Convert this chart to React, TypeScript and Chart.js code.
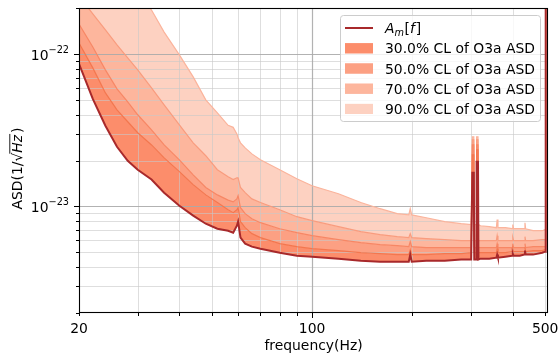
import React, { useEffect, useRef } from 'react';
import { Chart, registerables } from 'chart.js';

Chart.register(...registerables);

// ---------------- data ----------------
const FREQ = [20, 22, 24, 26, 28, 30, 33, 36, 40, 44, 48, 52, 56, 58, 59.5, 60, 61, 63, 66, 70, 80, 90, 100, 120, 140, 160, 180, 195, 197, 199, 220, 250, 280, 300, 301.5, 302.5, 305.5, 306.5, 310.5, 311.5, 314.5, 315.5, 320, 340, 357, 359, 361, 380, 398, 400, 402, 420, 433, 435, 437, 460, 490, 500, 502];

const AM = [
  8.6e-23, 5.07e-23, 3.38e-23, 2.46e-23, 1.99e-23, 1.74e-23,
  1.5e-23, 1.23e-23, 1.01e-23, 8.7e-24, 7.7e-24, 7.14e-24,
  6.93e-24, 6.73e-24, 7.47e-24, 7.94e-24, 6.24e-24, 5.7e-24,
  5.45e-24, 5.28e-24, 4.97e-24, 4.75e-24, 4.68e-24, 4.54e-24,
  4.41e-24, 4.34e-24, 4.34e-24, 4.34e-24, 4.83e-24, 4.34e-24,
  4.41e-24, 4.41e-24, 4.48e-24, 4.48e-24, 4.48e-24, 1.66e-23,
  1.66e-23, 4.48e-24, 4.48e-24, 1.96e-23, 1.96e-23, 4.48e-24,
  4.54e-24, 4.54e-24, 4.61e-24, 4.83e-24, 4.61e-24, 4.68e-24,
  4.75e-24, 4.9e-24, 4.75e-24, 4.75e-24, 4.83e-24, 5.13e-24,
  4.83e-24, 4.83e-24, 4.97e-24, 5.05e-24, 1.0e-21,
];

const CL30 = [
  1.18e-22, 8.1e-23, 5.55e-23, 4.3e-23, 3.59e-23, 3.04e-23,
  2.53e-23, 2.08e-23, 1.69e-23, 1.39e-23, 1.19e-23, 1.06e-23,
  9.5e-24, 9.1e-24, 9.5e-24, 9.8e-24, 7.94e-24, 7.25e-24,
  6.63e-24, 6.24e-24, 5.7e-24, 5.45e-24, 5.28e-24, 5.13e-24,
  4.97e-24, 4.9e-24, 4.83e-24, 4.83e-24, 5.2e-24, 4.83e-24,
  4.83e-24, 4.9e-24, 4.9e-24, 4.97e-24, 4.97e-24, 2.18e-23,
  2.18e-23, 4.97e-24, 4.97e-24, 2.35e-23, 2.35e-23, 4.97e-24,
  4.97e-24, 4.97e-24, 4.97e-24, 5.28e-24, 4.97e-24, 4.97e-24,
  5.05e-24, 5.28e-24, 5.05e-24, 5.05e-24, 5.05e-24, 5.37e-24,
  5.05e-24, 5.13e-24, 5.13e-24, 5.2e-24, 1.0e-21,
];

const CL50 = [
  1.57e-22, 1.11e-22, 7.86e-23, 5.9e-23, 4.85e-23, 3.99e-23,
  3.18e-23, 2.53e-23, 2.02e-23, 1.61e-23, 1.33e-23, 1.19e-23,
  1.1e-23, 1.07e-23, 1.12e-23, 1.175e-23, 9.8e-24, 8.96e-24,
  8.31e-24, 7.82e-24, 7.14e-24, 6.73e-24, 6.43e-24, 6.05e-24,
  5.78e-24, 5.61e-24, 5.53e-24, 5.45e-24, 5.87e-24, 5.45e-24,
  5.37e-24, 5.37e-24, 5.37e-24, 5.37e-24, 5.37e-24, 2.53e-23,
  2.53e-23, 5.37e-24, 5.37e-24, 2.53e-23, 2.53e-23, 5.37e-24,
  5.37e-24, 5.37e-24, 5.37e-24, 5.7e-24, 5.37e-24, 5.37e-24,
  5.37e-24, 5.7e-24, 5.37e-24, 5.37e-24, 5.37e-24, 5.7e-24,
  5.37e-24, 5.45e-24, 5.45e-24, 5.45e-24, 1.0e-21,
];

const CL70 = [
  2.4e-22, 1.83e-22, 1.44e-22, 1.145e-22, 9.42e-23, 7.86e-23,
  5.99e-23, 4.63e-23, 3.43e-23, 2.61e-23, 2.15e-23, 1.74e-23,
  1.565e-23, 1.5e-23, 1.54e-23, 1.54e-23, 1.33e-23, 1.23e-23,
  1.12e-23, 1.06e-23, 9.5e-24, 8.56e-24, 8.06e-24, 7.36e-24,
  6.83e-24, 6.53e-24, 6.33e-24, 6.24e-24, 6.63e-24, 6.24e-24,
  6.15e-24, 6.05e-24, 5.96e-24, 5.96e-24, 5.96e-24, 2.73e-23,
  2.73e-23, 5.96e-24, 5.96e-24, 2.73e-23, 2.73e-23, 5.96e-24,
  5.96e-24, 5.96e-24, 5.96e-24, 6.43e-24, 5.96e-24, 5.96e-24,
  5.96e-24, 6.24e-24, 5.96e-24, 5.96e-24, 5.96e-24, 6.33e-24,
  5.96e-24, 5.96e-24, 6.05e-24, 6.05e-24, 1.0e-21,
];

const CL90 = [
  1.02e-21, 7.54e-22, 5.6e-22, 4.13e-22, 3.15e-22, 2.55e-22,
  1.94e-22, 1.39e-22, 9.85e-23, 7.07e-23, 5.0e-23, 4.1e-23,
  3.4e-23, 3.3e-23, 2.99e-23, 2.82e-23, 2.61e-23, 2.42e-23,
  2.21e-23, 2.02e-23, 1.74e-23, 1.52e-23, 1.367e-23, 1.21e-23,
  1.06e-23, 9.66e-24, 8.96e-24, 8.8e-24, 9.66e-24, 8.8e-24,
  8.43e-24, 7.94e-24, 7.7e-24, 7.6e-24, 7.6e-24, 2.86e-23,
  2.86e-23, 7.6e-24, 7.6e-24, 2.86e-23, 2.86e-23, 7.6e-24,
  7.47e-24, 7.36e-24, 7.25e-24, 8.2e-24, 7.25e-24, 7.25e-24,
  7.14e-24, 7.6e-24, 7.14e-24, 7.14e-24, 7.14e-24, 7.82e-24,
  7.14e-24, 6.93e-24, 6.93e-24, 7.04e-24, 1.0e-21,
];

const CL_LABELS = ['30.0% CL of O3a ASD', '50.0% CL of O3a ASD', '70.0% CL of O3a ASD', '90.0% CL of O3a ASD'];

const X_MIN = 20;
const X_MAX = 510;
const Y_MIN = 2e-24;
const Y_MAX = 2e-22;

const X_MAJOR = [100];
const X_MINOR = [20, 30, 40, 50, 60, 70, 80, 90, 200, 300, 400, 500];
const X_LABELS = [20, 100, 500];
const Y_MAJOR = [1e-23, 1e-22];
const Y_MINOR = [2e-24, 3e-24, 4e-24, 5e-24, 6e-24, 7e-24, 8e-24, 9e-24, 2e-23, 3e-23, 4e-23, 5e-23, 6e-23, 7e-23, 8e-23, 9e-23, 2e-22];
const Y_LABEL_EXPS = [-23, -22];

// ---------------- styles ----------------
const AM_COLOR = '#a8292b';
const FILLS = ['#fc8d6b', '#fca083', '#fdb69d', '#fdd1c1'];
const EDGES = ['#f3774f', '#f78765', '#f99c7e', '#fbb49c'];
const FONT = '"DejaVu Sans", sans-serif';
const FS = 13.9;

const decor = {
  id: 'decor',
  beforeDatasetsDraw(chart: any) {
    const { ctx, chartArea: a, scales } = chart;
    const x = scales.x, y = scales.y;
    ctx.save();
    ctx.beginPath();
    ctx.rect(a.left, a.top, a.right - a.left, a.bottom - a.top);
    ctx.clip();
    const vl = (v: number, c: string, w: number) => {
      const p = Math.round(x.getPixelForValue(v)) + 0.5;
      ctx.strokeStyle = c; ctx.lineWidth = w;
      ctx.beginPath(); ctx.moveTo(p, a.top); ctx.lineTo(p, a.bottom); ctx.stroke();
    };
    const hl = (v: number, c: string, w: number) => {
      const p = Math.round(y.getPixelForValue(v)) + 0.5;
      ctx.strokeStyle = c; ctx.lineWidth = w;
      ctx.beginPath(); ctx.moveTo(a.left, p); ctx.lineTo(a.right, p); ctx.stroke();
    };
    X_MINOR.forEach((v) => vl(v, 'rgba(200,200,200,0.6)', 1));
    Y_MINOR.forEach((v) => hl(v, 'rgba(200,200,200,0.6)', 1));
    X_MAJOR.forEach((v) => vl(v, 'rgba(170,170,170,0.9)', 1.2));
    Y_MAJOR.forEach((v) => hl(v, 'rgba(170,170,170,0.9)', 1.2));
    ctx.restore();
  },
  afterDraw(chart: any) {
    const { ctx, chartArea: a, scales } = chart;
    const x = scales.x, y = scales.y;
    ctx.save();
    // spines
    ctx.strokeStyle = '#000';
    ctx.lineWidth = 1.1;
    ctx.strokeRect(a.left + 0.5, a.top + 0.5, a.right - a.left - 1, a.bottom - a.top - 1);
    // ticks
    ctx.lineWidth = 1;
    const xt = (v: number, len: number) => {
      const p = Math.round(x.getPixelForValue(v)) + 0.5;
      ctx.beginPath(); ctx.moveTo(p, a.bottom); ctx.lineTo(p, a.bottom + len); ctx.stroke();
    };
    const yt = (v: number, len: number) => {
      const p = Math.round(y.getPixelForValue(v)) + 0.5;
      ctx.beginPath(); ctx.moveTo(a.left, p); ctx.lineTo(a.left - len, p); ctx.stroke();
    };
    X_MINOR.forEach((v) => xt(v, 3));
    X_MAJOR.forEach((v) => xt(v, 5));
    Y_MINOR.forEach((v) => yt(v, 3));
    Y_MAJOR.forEach((v) => yt(v, 5));
    // x tick labels
    ctx.fillStyle = '#000';
    ctx.font = `${FS}px ${FONT}`;
    ctx.textAlign = 'center';
    ctx.textBaseline = 'alphabetic';
    X_LABELS.forEach((v) => {
      ctx.fillText(String(v), x.getPixelForValue(v), a.bottom + 20);
    });
    // y tick labels: 10^{exp}
    Y_LABEL_EXPS.forEach((e) => {
      const yc = y.getPixelForValue(Math.pow(10, e));
      const right = a.left - 10;
      const supTxt = '\u2212' + String(-e);
      ctx.font = `${FS * 0.7}px ${FONT}`;
      const ws = ctx.measureText(supTxt).width;
      ctx.font = `${FS}px ${FONT}`;
      const wb = ctx.measureText('10').width;
      ctx.textAlign = 'left';
      ctx.fillText('10', right - ws - wb, yc + 6);
      ctx.font = `${FS * 0.7}px ${FONT}`;
      ctx.fillText(supTxt, right - ws, yc - 1);
    });
    // x axis title
    ctx.font = `${FS}px ${FONT}`;
    ctx.textAlign = 'center';
    ctx.fillText('frequency(Hz)', (a.left + a.right) / 2, a.bottom + 37);
    // y axis title: ASD(1/√Hz) with radical bar over Hz
    {
      ctx.save();
      ctx.translate(22, (a.top + a.bottom) / 2 + 8);
      ctx.rotate(-Math.PI / 2);
      const nf = `${FS}px ${FONT}`;
      const itf = `italic ${FS}px ${FONT}`;
      const parts: [string, string][] = [['ASD(1/', nf], ['\u221A', nf], ['Hz', itf], [')', nf]];
      const widths = parts.map(([t, f]) => { ctx.font = f; return ctx.measureText(t).width; });
      const total = widths.reduce((s, w) => s + w, 0) + 2;
      let cx = -total / 2;
      ctx.textAlign = 'left';
      parts.forEach(([t, f], i) => {
        ctx.font = f;
        ctx.fillText(t, cx, 0);
        if (i === 2) {
          ctx.strokeStyle = '#000';
          ctx.lineWidth = 0.9;
          ctx.beginPath();
          ctx.moveTo(cx - 1, -12.2);
          ctx.lineTo(cx + widths[i] + 1, -12.2);
          ctx.stroke();
          cx += 2;
        }
        cx += widths[i];
      });
      ctx.restore();
    }
    // legend
    {
      const L = 340.5, T = 15.5, W = 200, H = 106, r = 3;
      ctx.beginPath();
      ctx.moveTo(L + r, T);
      ctx.lineTo(L + W - r, T); ctx.quadraticCurveTo(L + W, T, L + W, T + r);
      ctx.lineTo(L + W, T + H - r); ctx.quadraticCurveTo(L + W, T + H, L + W - r, T + H);
      ctx.lineTo(L + r, T + H); ctx.quadraticCurveTo(L, T + H, L, T + H - r);
      ctx.lineTo(L, T + r); ctx.quadraticCurveTo(L, T, L + r, T);
      ctx.closePath();
      ctx.fillStyle = 'rgba(255,255,255,0.8)';
      ctx.fill();
      ctx.strokeStyle = '#cccccc';
      ctx.lineWidth = 1;
      ctx.stroke();

      const hx0 = 345, hx1 = 373, tx = 385;
      const rows = [28, 48.3, 68.5, 88.7, 108.9];
      // A_m line entry
      ctx.strokeStyle = AM_COLOR;
      ctx.lineWidth = 2;
      ctx.beginPath(); ctx.moveTo(hx0, rows[0]); ctx.lineTo(hx1, rows[0]); ctx.stroke();
      ctx.fillStyle = '#000';
      ctx.textBaseline = 'alphabetic';
      ctx.textAlign = 'left';
      let cx = tx;
      const base = rows[0] + 5;
      ctx.font = `italic ${FS}px ${FONT}`;
      ctx.fillText('A', cx, base); cx += ctx.measureText('A').width;
      ctx.font = `italic ${FS * 0.7}px ${FONT}`;
      ctx.fillText('m', cx, base + 2.5); cx += ctx.measureText('m').width + 0.5;
      ctx.font = `${FS}px ${FONT}`;
      ctx.fillText('[', cx, base); cx += ctx.measureText('[').width;
      ctx.font = `italic ${FS}px ${FONT}`;
      ctx.fillText('f', cx, base); cx += ctx.measureText('f').width + 1;
      ctx.font = `${FS}px ${FONT}`;
      ctx.fillText(']', cx, base);
      // patches
      CL_LABELS.forEach((lab, i) => {
        const yc = rows[i + 1];
        ctx.fillStyle = FILLS[i];
        ctx.fillRect(hx0, yc - 5, hx1 - hx0, 10);
        ctx.strokeStyle = FILLS[i];
        ctx.lineWidth = 1;
        ctx.strokeRect(hx0 + 0.5, yc - 4.5, hx1 - hx0 - 1, 9);
        ctx.fillStyle = '#000';
        ctx.font = `${FS}px ${FONT}`;
        ctx.fillText(lab, tx, yc + 5);
      });
    }
    ctx.restore();
  },
};

export default function App() {
  const ref = useRef<HTMLCanvasElement>(null);
  useEffect(() => {
    const canvas = ref.current;
    if (!canvas) return;
    const pts = (vals: number[]) => FREQ.map((f, i) => ({ x: f, y: vals[i] }));
    const series = [CL30, CL50, CL70, CL90];
    const chart = new Chart(canvas, {
      type: 'line',
      data: {
        datasets: [
          {
            label: 'A_m[f]',
            data: pts(AM),
            borderColor: AM_COLOR,
            borderWidth: 2,
            fill: false,
            pointRadius: 0,
            tension: 0,
            clip: 0,
          } as any,
          ...series.map((s, i) => ({
            label: CL_LABELS[i],
            data: pts(s),
            borderColor: EDGES[i],
            backgroundColor: FILLS[i],
            borderWidth: 1.2,
            fill: '-1',
            pointRadius: 0,
            tension: 0,
            clip: 0,
          })),
        ],
      },
      options: {
        animation: false,
        responsive: false,
        events: [],
        layout: { padding: { left: 79, top: 8, right: 10, bottom: 43 } },
        scales: {
          x: { type: 'logarithmic', min: X_MIN, max: X_MAX, display: false },
          y: { type: 'logarithmic', min: Y_MIN, max: Y_MAX, display: false },
        },
        plugins: {
          legend: { display: false },
          tooltip: { enabled: false },
          filler: { drawTime: 'beforeDatasetsDraw', propagate: false },
        } as any,
      },
      plugins: [decor],
    });
    return () => chart.destroy();
  }, []);
  return (
    <canvas
      ref={ref}
      width={558}
      height={356}
      style={{ position: 'absolute', left: 0, top: 0, width: 558, height: 356 }}
    />
  );
}
